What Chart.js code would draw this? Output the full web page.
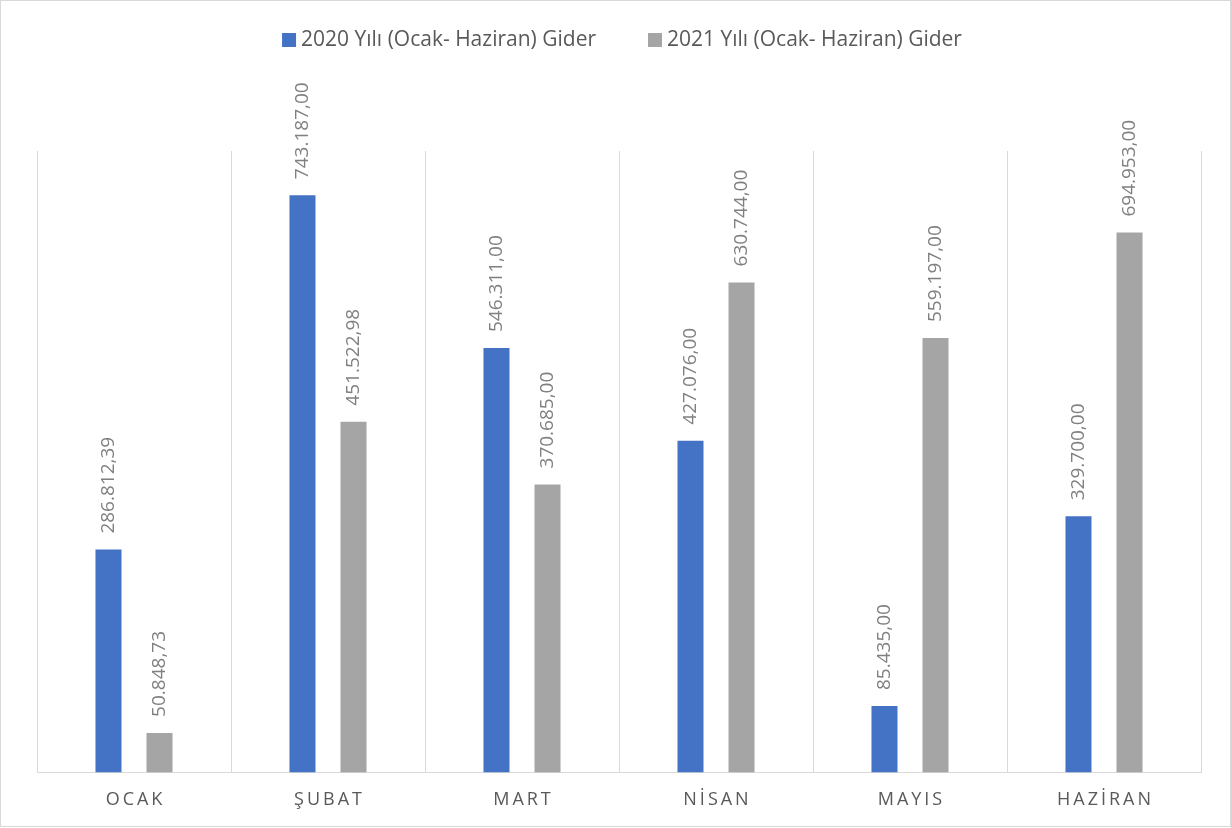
<!DOCTYPE html>
<html>
<head>
<meta charset="utf-8">
<script src="https://cdn.jsdelivr.net/npm/chart.js@4"></script>
<style>
  html, body { margin: 0; padding: 0; background: #fff; }
  #wrap { width: 1231px; height: 828px; }
</style>
</head>
<body>
<div id="wrap"><canvas id="giderChart" width="1231" height="828"></canvas></div>
<script>
// aylar ve giderler
const aylar = ['OCAK', 'ŞUBAT', 'MART', 'NİSAN', 'MAYIS', 'HAZİRAN'];
const gider2020 = [286812.39, 743187.00, 546311.00, 427076.00, 85435.00, 329700.00];
const gider2021 = [50848.73, 451522.98, 370685.00, 630744.00, 559197.00, 694953.00];
const seriAdlari = ['2020 Yılı (Ocak- Haziran) Gider', '2021 Yılı (Ocak- Haziran) Gider'];

// 743187.00 -> 743.187,00
function formatTL(v) {
    const parts = v.toFixed(2).split('.');
    const tam = parts[0].replace(/\B(?=(\d{3})+(?!\d))/g, '.');
    return tam + ',' + parts[1];
}

const fontAdi = "'Open Sans', 'Noto Sans', sans-serif";

// arka plan ve cerceve
const cercevePlugin = {
    id: 'cerceve',
    beforeDraw(chart) {
        const ctx = chart.ctx;
        ctx.save();
        ctx.fillStyle = '#ffffff';
        ctx.fillRect(0, 0, chart.width, chart.height);
        ctx.strokeStyle = '#d9d9d9';
        ctx.lineWidth = 1;
        ctx.strokeRect(0.5, 0.5, chart.width - 1, chart.height - 2);
        ctx.restore();
    }
};

// dikey deger etiketleri
const etiketPlugin = {
    id: 'etiketler',
    afterDatasetsDraw(chart) {
        const ctx = chart.ctx;
        ctx.save();
        ctx.font = '19px ' + fontAdi;
        ctx.fillStyle = '#808080';
        ctx.textAlign = 'left';
        ctx.textBaseline = 'middle';
        chart.data.datasets.forEach(function (ds, i) {
            const meta = chart.getDatasetMeta(i);
            meta.data.forEach(function (bar, j) {
                ctx.save();
                ctx.translate(bar.x, bar.y - 16);
                ctx.rotate(-Math.PI / 2);
                ctx.fillText(formatTL(ds.data[j]), 0, 0);
                ctx.restore();
            });
        });
        ctx.restore();
    }
};

// ust kisimdaki legend (kutu + yazi), datasetlerden okunuyor
const legendPlugin = {
    id: 'ustLegend',
    afterDraw(chart) {
        const ctx = chart.ctx;
        const kutu = 14, araKutu = 5, araItem = 52;
        ctx.save();
        ctx.font = '21px ' + fontAdi;
        ctx.textBaseline = 'middle';
        ctx.textAlign = 'left';
        const items = chart.data.datasets.map(function (ds) {
            return { text: ds.label, color: ds.backgroundColor, w: ctx.measureText(ds.label).width };
        });
        let toplam = 0;
        items.forEach(function (it, i) {
            toplam += kutu + araKutu + it.w + (i > 0 ? araItem : 0);
        });
        let x = 622 - toplam / 2;
        const y = 40;
        items.forEach(function (it) {
            ctx.fillStyle = it.color;
            ctx.fillRect(x, y - kutu / 2, kutu, kutu);
            ctx.fillStyle = '#595959';
            ctx.fillText(it.text, x + kutu + araKutu, y);
            x += kutu + araKutu + it.w + araItem;
        });
        ctx.restore();
    }
};

const ctx = document.getElementById('giderChart').getContext('2d');

new Chart(ctx, {
    type: 'bar',
    data: {
        labels: aylar,
        datasets: [{
            label: seriAdlari[0],
            data: gider2020,
            backgroundColor: '#4472C4',
            categoryPercentage: 0.526,
            barPercentage: 0.51
        }, {
            label: seriAdlari[1],
            data: gider2021,
            backgroundColor: '#A5A5A5',
            categoryPercentage: 0.526,
            barPercentage: 0.51
        }]
    },
    options: {
        responsive: false,
        animation: false,
        layout: {
            padding: { left: 37, right: 30, top: 151, bottom: 0 }
        },
        plugins: {
            legend: { display: false },
            title: { display: false },
            tooltip: { enabled: false }
        },
        scales: {
            x: {
                grid: {
                    display: true,
                    offset: true,
                    color: '#d9d9d9',
                    lineWidth: 1,
                    drawTicks: false
                },
                border: { display: true, color: '#d9d9d9', width: 1 },
                ticks: {
                    padding: 17,
                    color: '#595959',
                    font: { family: fontAdi, size: 18 },
                    callback: function (val, idx) {
                        // harf araligi icin ince bosluk
                        return aylar[idx].split('').join('\u2009');
                    }
                }
            },
            y: {
                display: false,
                min: 0,
                max: 800000
            }
        }
    },
    plugins: [cercevePlugin, etiketPlugin, legendPlugin]
});
</script>
</body>
</html>
